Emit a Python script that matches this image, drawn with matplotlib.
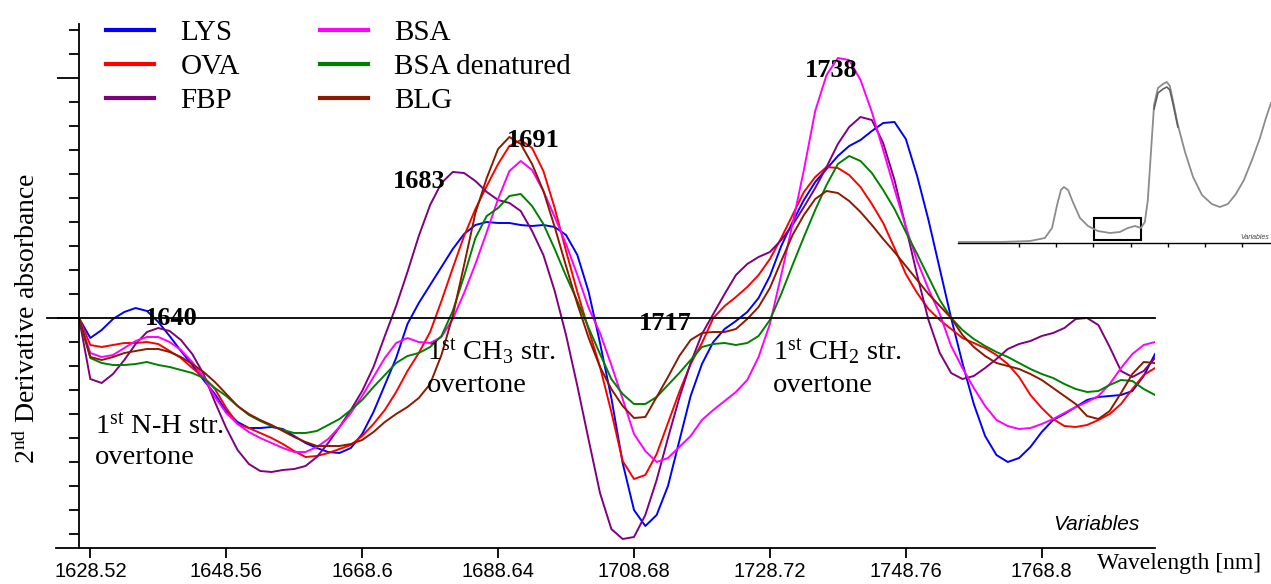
import matplotlib
matplotlib.use('Agg')
import matplotlib.pyplot as plt
import matplotlib.patches as patches
import numpy as np

plt.rcParams['font.family'] = 'Liberation Serif'
plt.rcParams['mathtext.fontset'] = 'custom'
plt.rcParams['mathtext.rm'] = 'Liberation Serif'
plt.rcParams['mathtext.it'] = 'Liberation Serif:italic'
plt.rcParams['mathtext.bf'] = 'Liberation Serif:bold'

# wavelength grid of the 2nd derivative spectra (nm)
wavelength = np.round(1626.85 + 1.67 * np.arange(96), 2)

# 2nd derivative values (arbitrary units)
lys = [0, -20, -12, -1, 6, 10, 7, -4, -18, -33,
       -47, -62, -76, -93, -104, -110, -110, -109, -111, -118,
       -125, -130, -134, -135, -130, -116, -94, -67, -40, -6,
       15, 33, 51, 69, 84, 93, 96, 95, 95, 93,
       92, 93, 91, 83, 63, 26, -25, -80, -145, -192,
       -208, -197, -168, -123, -78, -46, -24, -11, -3, 6,
       20, 42, 72, 96, 118, 136, 149, 162, 172, 178,
       187, 195, 196, 179, 142, 98, 49, 0, -45, -86,
       -118, -137, -144, -140, -129, -114, -102, -96, -89, -82,
       -79, -78, -77, -73, -58, -36]
ova = [0, -27, -29, -27, -25, -25, -24, -26, -33, -40,
       -50, -59, -71, -90, -106, -110, -115, -120, -126, -133,
       -139, -138, -135, -131, -127, -118, -106, -92, -74, -53,
       -35, -14, 17, 50, 82, 109, 132, 154, 172, 178,
       170, 147, 110, 67, 26, -12, -49, -94, -143, -161,
       -157, -136, -105, -74, -46, -25, 0, 12, 21, 31,
       43, 59, 80, 103, 126, 141, 151, 150, 143, 131,
       114, 95, 70, 44, 25, 9, -2, -11, -20, -25,
       -30, -37, -46, -59, -77, -90, -101, -108, -109, -107,
       -102, -96, -86, -71, -57, -50]
fbp = [0, -61, -65, -56, -42, -26, -14, -10, -13, -22,
       -36, -56, -84, -110, -132, -146, -153, -154, -152, -151,
       -148, -139, -125, -109, -92, -73, -49, -18, 12, 46,
       82, 113, 135, 146, 145, 137, 126, 118, 115, 107,
       87, 63, 27, -17, -68, -122, -175, -211, -221, -219,
       -197, -162, -120, -80, -45, -16, 4, 24, 43, 54,
       61, 66, 78, 93, 111, 130, 151, 174, 191, 201,
       198, 175, 138, 91, 43, -2, -35, -55, -61, -58,
       -50, -41, -31, -26, -23, -18, -15, -10, -1, 0,
       -7, -29, -53, -59, -53, -40]
bsa = [0, -35, -39, -37, -30, -23, -19, -19, -24, -32,
       -44, -59, -79, -95, -106, -114, -120, -125, -130, -134,
       -134, -129, -121, -109, -95, -78, -59, -40, -25, -20,
       -24, -25, -19, -1, 25, 54, 86, 119, 147, 157,
       148, 127, 101, 74, 43, 10, -15, -47, -81, -116,
       -133, -144, -140, -129, -118, -102, -92, -83, -74, -62,
       -39, -6, 43, 94, 148, 207, 243, 260, 258, 238,
       206, 168, 129, 91, 57, 29, 4, -28, -50, -70,
       -88, -102, -108, -111, -110, -106, -101, -95, -89, -84,
       -78, -66, -50, -36, -27, -24]
bsa_den = [0, -40, -45, -47, -47, -46, -44, -47, -49, -52,
           -55, -60, -70, -78, -88, -97, -103, -108, -112, -115,
           -115, -113, -107, -101, -92, -82, -69, -57, -45, -38,
           -35, -29, -18, 7, 42, 80, 102, 110, 122, 124,
           112, 94, 69, 42, 17, -10, -36, -61, -76, -86,
           -86, -79, -67, -55, -42, -29, -26, -25, -27, -25,
           -18, -2, 24, 53, 81, 108, 133, 154, 162, 157,
           145, 128, 109, 86, 64, 41, 18, 0, -12, -21,
           -28, -34, -39, -45, -51, -56, -60, -66, -71, -74,
           -73, -67, -62, -63, -71, -77]
blg = [0, -39, -42, -39, -35, -33, -31, -31, -34, -39,
       -46, -54, -64, -76, -88, -96, -102, -107, -113, -119,
       -124, -128, -128, -128, -126, -122, -114, -104, -96, -89,
       -80, -66, -37, 2, 53, 105, 140, 169, 181, 174,
       154, 127, 91, 52, 14, -20, -49, -71, -88, -100,
       -99, -79, -59, -38, -22, -15, -14, -14, -11, -1,
       11, 30, 57, 83, 103, 119, 127, 125, 117, 106,
       93, 79, 66, 52, 38, 24, 12, 0, -17, -29,
       -38, -45, -48, -51, -56, -62, -70, -78, -86, -98,
       -101, -93, -75, -56, -44, -45]

names = ['LYS', 'OVA', 'FBP', 'BSA', 'BSA denatured', 'BLG']
colors = ['#0000ff', '#ff0000', '#800080', '#ff00ff', '#008000', '#8b1a00']

xtick_labels = ['1628.52', '1648.56', '1668.6', '1688.64',
                '1708.68', '1728.72', '1748.76', '1768.8']

# peak labels: (text, wavelength, value)
peak_labels = [('1640', 1640.4, -7), ('1683', 1677.0, 130), ('1691', 1693.8, 171),
               ('1717', 1713.3, -12), ('1738', 1737.7, 241)]

# inset: raw NIR spectrum
inset_nm = [1170, 1311, 1412, 1462, 1486, 1503, 1516, 1526, 1540, 1556,
            1580, 1607, 1640, 1681, 1714, 1741, 1765, 1785, 1798, 1808,
            1819, 1829, 1842, 1859, 1872, 1882, 1892, 1909, 1933, 1960,
            1990, 2023, 2050, 2077, 2104, 2131, 2158, 2185, 2205, 2222]
inset_abs = [0.01, 0.01, 0.02, 0.05, 0.15, 0.38, 0.53, 0.56, 0.53, 0.41,
             0.25, 0.17, 0.12, 0.10, 0.11, 0.15, 0.17, 0.15, 0.21, 0.43,
             0.93, 1.38, 1.55, 1.59, 1.61, 1.57, 1.43, 1.18, 0.91, 0.66,
             0.48, 0.39, 0.36, 0.39, 0.49, 0.63, 0.83, 1.05, 1.25, 1.40]
inset_peak_nm = [1829, 1842, 1859, 1872, 1882, 1892, 1909]
inset_peak_low = [1.34, 1.50, 1.54, 1.56, 1.53, 1.40, 1.16]
inset_ticks = [1375, 1499, 1624, 1751, 1876, 1999, 2124]

W, H = 1271, 584
fig = plt.figure(figsize=(W / 100, H / 100), dpi=100)
ax = fig.add_axes([79 / W, 36 / H, 1076 / W, 524 / H])

series = [lys, ova, fbp, bsa, bsa_den, blg]
for vals, name, col in zip(series, names, colors):
    ax.plot(wavelength, vals, color=col, lw=1.4, label=name)

ax.set_xlim(wavelength[0], wavelength[-1])
ax.set_ylim(-230, 294)
for s in ['top', 'right', 'bottom']:
    ax.spines[s].set_visible(False)
ax.spines['left'].set_linewidth(1.3)

# x axis line and zero line, both reaching left past the y axis
ax.plot([-23 / 1076, 1], [0, 0], transform=ax.transAxes, color='k', lw=1.3, clip_on=False)
ax.plot([-32 / 1076, 1], [0, 0], transform=ax.get_yaxis_transform(), color='k', lw=1.3,
        clip_on=False)

ax.set_xticks(wavelength[1::12])
ax.set_xticklabels(xtick_labels, family='Liberation Sans', fontsize=14.5)
ax.tick_params(axis='x', direction='out', length=7, width=1.3, pad=3)
ax.set_yticks([0, 240])
ax.set_yticks(np.arange(-216, 294, 24), minor=True)
ax.tick_params(axis='y', which='major', direction='out', length=16, width=1.3, labelleft=False)
ax.tick_params(axis='y', which='minor', direction='out', length=7, width=1.3)

for txt, wl, v in peak_labels:
    ax.text(wl, v, txt, ha='center', va='baseline', fontsize=19, fontweight='bold')

ax.text(1629.2, -115, '1$^{\\mathrm{st}}$ N-H str.', fontsize=20.5, va='baseline')
ax.text(1629.2, -146, 'overtone', fontsize=20.5, va='baseline')
ax.text(1678.1, -41, '1$^{\\mathrm{st}}$ CH$_3$ str.', fontsize=20.5, va='baseline')
ax.text(1678.1, -74, 'overtone', fontsize=20.5, va='baseline')
ax.text(1729.2, -41, '1$^{\\mathrm{st}}$ CH$_2$ str.', fontsize=20.5, va='baseline')
ax.text(1729.2, -74, 'overtone', fontsize=20.5, va='baseline')

ax.text(1776.8, -206, 'Variables', family='Liberation Sans', style='italic',
        fontsize=15, ha='center', va='center')
fig.text(1097 / W, 1 - 563 / H, 'Wavelength [nm]', fontsize=17, ha='left', va='center')
fig.text(28 / W, 1 - 318 / H, '2$^{\\mathrm{nd}}$ Derivative absorbance', fontsize=20,
         rotation=90, ha='center', va='center')

leg = fig.legend(loc='upper left', bbox_to_anchor=(106 / W, 1 - 20 / H), ncol=2,
                 frameon=False, fontsize=21, handlelength=1.65, handletextpad=0.9,
                 columnspacing=2.75, labelspacing=0.25, borderpad=0, borderaxespad=0)
for line in leg.get_lines():
    line.set_linewidth(3)

# inset with the raw spectrum
ins = fig.add_axes([958 / W, (H - 243) / H, (W - 958) / W, 173 / H])
ins.patch.set_alpha(0)
ins.plot(inset_nm, inset_abs, color='#8c8c8c', lw=1.3)
ins.plot(inset_peak_nm, inset_peak_low, color='#606060', lw=1.2)
ins.set_xlim(1170, 2222)
ins.set_ylim(0, 1.73)
for s in ['top', 'right', 'left']:
    ins.spines[s].set_visible(False)
ins.spines['bottom'].set_linewidth(1.0)
ins.set_xticks(inset_ticks)
ins.set_yticks([])
ins.tick_params(axis='x', direction='out', length=3, width=1.0, labelbottom=False)
ins.add_patch(patches.Rectangle((1627, 0.03), 158, 0.22, fill=False, edgecolor='k', lw=1.5))
ins.text(2118, 0.06, 'Variables', family='Liberation Sans', style='italic',
         fontsize=5, color='#444444', va='center')

fig.savefig('out.png', dpi=100)
